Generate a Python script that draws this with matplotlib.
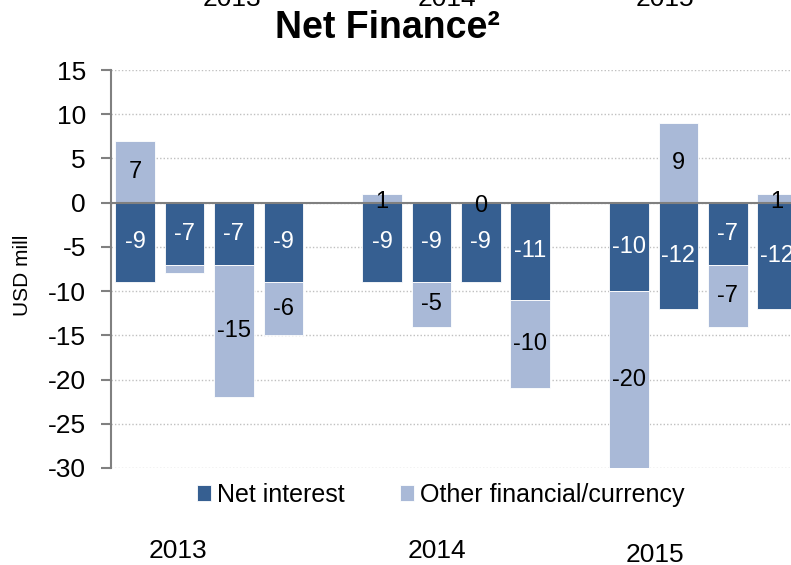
import matplotlib.pyplot as plt
import numpy as np

quarters = ["Q1", "Q2", "Q3", "Q4"] * 3
years = ["2013", "2014", "2015"]
net_interest = [-9, -7, -7, -9, -9, -9, -9, -11, -10, -12, -7, -12]
other_fin = [7, -1, -15, -6, 1, -5, 0, -10, -20, 9, -7, 1]
# which "other" values get a printed label
other_labels = ["7", "", "-15", "-6", "1", "-5", "0", "-10", "-20", "9", "-7", "1"]

dark = "#365f91"
light = "#a9b9d7"

plt.rcParams['font.family'] = ['Liberation Sans', 'DejaVu Sans']
plt.rcParams['axes.unicode_minus'] = False

fig = plt.figure(figsize=(7.91, 5.65), dpi=100)
ax = fig.add_axes([0.1403, 0.1717, 0.8597, 0.7043])

# slot positions: 4 quarters per year, one empty slot between years
x = np.array([i + (i // 4) for i in range(12)], dtype=float)
width = 0.8

ni = np.array(net_interest, dtype=float)
ot = np.array(other_fin, dtype=float)
ot_bottom = np.where(ot < 0, ni, 0)

ax.bar(x, ni, width, color=dark, edgecolor="white", linewidth=0.6, label="Net interest", zorder=3)
ax.bar(x, ot, width, bottom=ot_bottom, color=light, edgecolor="white", linewidth=0.6,
       label="Other financial/currency", zorder=3)

for xi, v in zip(x, ni):
    ax.text(xi, v / 2, f"{int(v)}", ha="center", va="center", color="white", fontsize=17, zorder=5)
for xi, v, b, lab in zip(x, ot, ot_bottom, other_labels):
    if not lab:
        continue
    yc = b + v / 2
    if abs(v) <= 1:
        yc = v / 2 - 0.4 if v > 0 else -0.4
    ax.text(xi, yc, lab, ha="center", va="center", color="black", fontsize=17, zorder=5)

ax.set_ylim(-30, 15)
ax.set_xlim(-0.49, 13.28)
ax.set_yticks(range(-30, 16, 5))
ax.tick_params(axis="y", labelsize=19, length=7, width=1.5, color="#808080", pad=11)
ax.set_xticks([])
ax.yaxis.grid(True, linestyle=(0, (1, 1.5)), color="#c0c0c0", linewidth=1, zorder=0)
ax.axhline(0, color="#808080", linewidth=1.5, zorder=4)
for s in ["top", "right", "bottom"]:
    ax.spines[s].set_visible(False)
ax.spines["left"].set_color("#808080")
ax.spines["left"].set_linewidth(1.5)

fig.text(0.028, 0.513, "USD mill", rotation=90, ha="center", va="center", fontsize=15)

fig.text(0.49, 0.950, "Net Finance²", ha="center", va="center", fontsize=27,
         fontweight="bold")

# year labels cut off at the top edge and repeated at the bottom
for xf, yr in zip([0.293, 0.565, 0.841], years):
    fig.text(xf, 0.989, yr, ha="center", va="baseline", fontsize=19)
for xf, yr, yf in zip([0.225, 0.553, 0.828], years, [0.0124, 0.0124, 0.005]):
    fig.text(xf, yf, yr, ha="center", va="baseline", fontsize=19)

leg = fig.legend(loc="center", bbox_to_anchor=(0.557, 0.124), ncol=2, frameon=False,
                 fontsize=18, handlelength=0.56, handleheight=0.56, handletextpad=0.25,
                 columnspacing=2.2, borderpad=0, borderaxespad=0)

fig.savefig("out.png", dpi=100)
